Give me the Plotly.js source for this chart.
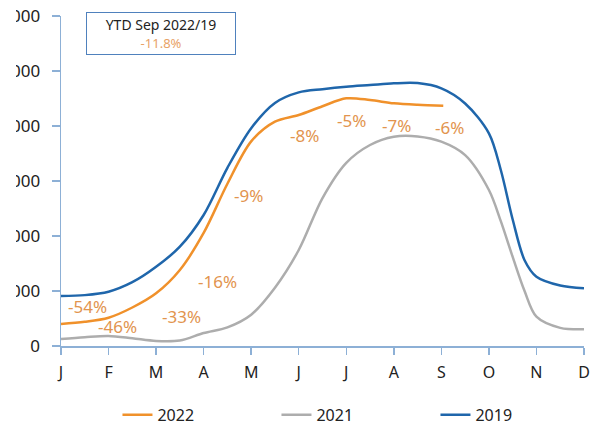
<!DOCTYPE html>
<html>
<head>
<meta charset="utf-8">
<script src="https://cdn.plot.ly/plotly-3.0.1.min.js"></script>
<style>
html,body{margin:0;padding:0;background:#fff;overflow:hidden;}
#chart{position:absolute;left:16px;top:0;width:579px;height:429px;}
</style>
</head>
<body>
<div id="chart"></div>
<script>
// Month tick labels (x = 0..11)
const monthLabels = ['J','F','M','A','M','J','J','A','S','O','N','D'];
const monthTicks = [0,1,2,3,4,5,6,7,8,9,10,11];
const yTicks = [0,1000,2000,3000,4000,5000,6000];
const yTickText = ['0','1000','2000','3000','4000','5000','6000'];

// 2022 series (x in months from Jan)
const x2022 = [0, 0.5, 1, 1.5, 2, 2.5, 3, 3.5, 4, 4.5, 5, 5.5, 6, 6.5, 7, 7.5, 8.04];
const y2022 = [400, 440, 515, 700, 958, 1382, 2055, 2950, 3720, 4080, 4200, 4360, 4503, 4473, 4412, 4385, 4370];

// 2021 series
const x2021 = [0, 0.5, 1, 1.5, 2, 2.5, 3, 3.5, 4, 4.5, 5, 5.5, 6, 6.5, 7, 7.5, 8, 8.5, 9, 9.25, 9.5, 9.75, 10, 10.5, 11];
const y2021 = [127, 160, 182, 140, 91, 100, 236, 340, 570, 1060, 1745, 2690, 3330, 3655, 3805, 3810, 3715, 3470, 2836, 2270, 1620, 1000, 533, 330, 303];

// 2019 series
const x2019 = [0, 0.5, 1, 1.5, 2, 2.5, 3, 3.5, 4, 4.5, 5, 5.5, 6, 6.5, 7, 7.5, 8, 8.5, 9, 9.25, 9.5, 9.75, 10, 10.5, 11];
const y2019 = [909, 925, 987, 1160, 1440, 1806, 2382, 3240, 3960, 4420, 4612, 4670, 4715, 4745, 4776, 4780, 4685, 4410, 3867, 3200, 2300, 1560, 1260, 1100, 1049];

// Percentage change labels (2022 vs 2019)
const pctTexts = ['-54%','-46%','-33%','-16%','-9%','-8%','-5%','-7%','-6%'];
const pctX = [0.56, 1.18, 2.53, 3.30, 3.94, 5.13, 6.12, 7.06, 8.17];
const pctY = [715, 352, 545, 1169, 2745, 3836, 4109, 4018, 3969];

const ytdTitle = 'YTD Sep 2022/19';
const ytdValue = '-11.8%';

const orange = '#F0912B';
const gray = '#ADADAD';
const blue = '#1F66AB';
const labelColor = '#E2944E';
const axisColor = '#8DB0D6';

const lineBase = {mode:'lines', line:{width:2.5, shape:'spline', smoothing:0.9}, hoverinfo:'skip'};
const traces = [
  Object.assign({}, lineBase, {x:x2022, y:y2022, name:'2022', line:Object.assign({}, lineBase.line, {color:orange})}),
  Object.assign({}, lineBase, {x:x2021, y:y2021, name:'2021', line:Object.assign({}, lineBase.line, {color:gray})}),
  Object.assign({}, lineBase, {x:x2019, y:y2019, name:'2019', line:Object.assign({}, lineBase.line, {color:blue})})
];

const annotations = pctTexts.map((t,i)=>({
  x:pctX[i], y:pctY[i], xref:'x', yref:'y', text:t, showarrow:false,
  font:{family:'Noto Sans, Open Sans, sans-serif', size:17, color:labelColor},
  xanchor:'center', yanchor:'middle'
}));
annotations.push({
  xref:'paper', yref:'paper', x:0.192, y:0.948, xanchor:'center', yanchor:'middle',
  showarrow:false, align:'center',
  text: ytdTitle + '<br><span style="color:#E8A266;font-size:13px">' + ytdValue + '</span>',
  font:{family:'Noto Sans, Open Sans, sans-serif', size:14, color:'#222'},
  bordercolor:'#4F81BD', borderwidth:1, borderpad:2, width:144, height:37, bgcolor:'#fff'
});

const layout = {
  width:579, height:429,
  margin:{l:45, r:11, t:16, b:83, autoexpand:false},
  paper_bgcolor:'#fff', plot_bgcolor:'#fff',
  showlegend:true,
  legend:{orientation:'h', x:0.564, xanchor:'center', yref:'container', y:0.033, yanchor:'middle',
          entrywidth:114, entrywidthmode:'pixels',
          font:{family:'Noto Sans, Open Sans, sans-serif', size:16, color:'#222'}},
  xaxis:{range:[0,11], tickvals:monthTicks, ticktext:monthLabels,
         showgrid:false, zeroline:false, showline:true, linecolor:axisColor, linewidth:1.5,
         ticks:'outside', ticklen:7, tickcolor:axisColor, tickwidth:1.5,
         ticklabelstandoff:4,
         tickfont:{family:'Noto Sans, Open Sans, sans-serif', size:16, color:'#222'}},
  yaxis:{range:[0,6000], tickvals:yTicks, ticktext:yTickText,
         showgrid:false, zeroline:false, showline:true, linecolor:axisColor, linewidth:1.5,
         ticks:'outside', ticklen:8, tickcolor:axisColor, tickwidth:1.5,
         ticklabelstandoff:8,
         tickfont:{family:'Noto Sans, Open Sans, sans-serif', size:17, color:'#222'}},
  annotations:annotations
};

Plotly.newPlot('chart', traces, layout, {staticPlot:true, displayModeBar:false});
</script>
</body>
</html>
